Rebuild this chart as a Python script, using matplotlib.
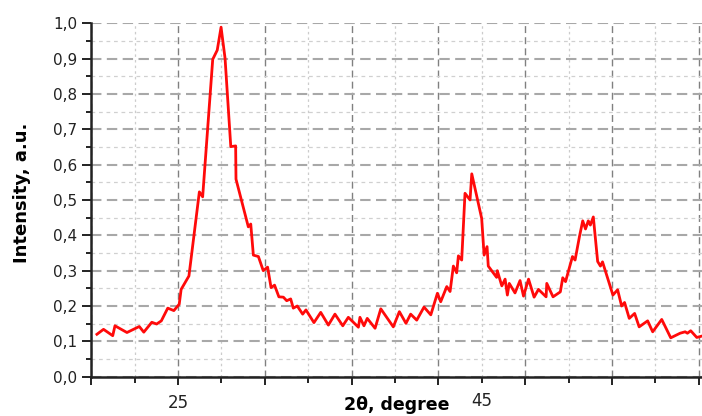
import matplotlib
matplotlib.use("Agg")
import matplotlib.pyplot as plt
from matplotlib.ticker import FixedLocator, FixedFormatter

plt.rcParams['font.family'] = ['DejaVu Sans']

# data: 2theta (degree) and intensity (a.u.)
two_theta = [20.33, 20.71, 21.24, 21.37, 22.06, 22.77, 23.03, 23.49, 23.77, 24.04,
             24.41, 24.76, 25.07, 25.18, 25.63, 26.23, 26.42, 27.00, 27.26, 27.48,
             27.71, 28.04, 28.32, 28.34, 29.05, 29.19, 29.34, 29.63, 29.91, 30.16,
             30.36, 30.56, 30.81, 31.07, 31.26, 31.49, 31.64, 31.87, 32.18, 32.37,
             32.83, 33.22, 33.66, 34.04, 34.49, 34.81, 35.39, 35.48, 35.71, 35.90,
             36.35, 36.68, 37.40, 37.75, 38.13, 38.40, 38.75, 39.17, 39.56, 39.94,
             40.13, 40.48, 40.67, 40.86, 41.05, 41.15, 41.34, 41.53, 41.82, 41.92,
             42.49, 42.63, 42.80, 42.87, 43.35, 43.39, 43.65, 43.84, 43.97, 44.08,
             44.41, 44.70, 44.90, 45.19, 45.51, 45.76, 46.20, 46.24, 46.60, 47.02,
             47.16, 47.32, 47.72, 47.87, 48.12, 48.31, 48.47, 48.63, 48.75, 48.92,
             49.17, 49.33, 49.45, 50.05, 50.32, 50.55, 50.72, 50.99, 51.30, 51.56,
             52.05, 52.34, 52.86, 53.38, 53.92, 54.21, 54.34, 54.53, 54.88, 55.18]
intensity = [0.120, 0.134, 0.116, 0.144, 0.125, 0.142, 0.126, 0.154, 0.149, 0.158,
             0.194, 0.187, 0.205, 0.247, 0.285, 0.523, 0.509, 0.898, 0.924, 0.989,
             0.901, 0.651, 0.653, 0.559, 0.424, 0.432, 0.344, 0.340, 0.300, 0.310,
             0.252, 0.259, 0.226, 0.225, 0.215, 0.220, 0.194, 0.200, 0.177, 0.189,
             0.153, 0.182, 0.146, 0.177, 0.144, 0.168, 0.140, 0.168, 0.144, 0.165,
             0.137, 0.192, 0.141, 0.184, 0.151, 0.177, 0.160, 0.197, 0.175, 0.236,
             0.212, 0.255, 0.241, 0.313, 0.294, 0.342, 0.330, 0.519, 0.500, 0.574,
             0.448, 0.344, 0.368, 0.313, 0.281, 0.300, 0.257, 0.276, 0.231, 0.264,
             0.237, 0.272, 0.228, 0.276, 0.225, 0.247, 0.226, 0.264, 0.226, 0.240,
             0.280, 0.269, 0.340, 0.330, 0.396, 0.441, 0.418, 0.441, 0.429, 0.452,
             0.326, 0.313, 0.325, 0.231, 0.246, 0.200, 0.210, 0.165, 0.179, 0.141,
             0.158, 0.127, 0.162, 0.110, 0.123, 0.127, 0.123, 0.130, 0.111, 0.115]

y_ticks = [0.0, 0.1, 0.2, 0.3, 0.4, 0.5, 0.6, 0.7, 0.8, 0.9, 1.0]
y_tick_labels = ['0,0', '0,1', '0,2', '0,3', '0,4', '0,5', '0,6', '0,7', '0,8', '0,9', '1,0']
y_minor = [0.05, 0.15, 0.25, 0.35, 0.45, 0.55, 0.65, 0.75, 0.85, 0.95]
x_ticks = [20, 25, 30, 35, 40, 45, 50, 55]
x_tick_labels = ['', '25', '', '', '', '', '', '']
x_minor = [22.5, 27.5, 32.5, 37.5, 42.5, 47.5, 52.5]
x_minor_labels = ['', '', '', '', '45', '', '']

fig = plt.figure(figsize=(7.02, 4.16), dpi=100)
ax = fig.add_axes([0.1299, 0.0945, 0.8701, 0.8495])

ax.set_xlim(20, 55.18)
ax.set_ylim(0, 1.0)

# grids
ax.grid(which='major', axis='y', color='#a8a8a8', linewidth=1.5, linestyle=(0, (5, 2.6)))
ax.grid(which='minor', axis='y', color='#d0d0d0', linewidth=0.9, linestyle=(0, (3, 3)))
ax.grid(which='major', axis='x', color='#808080', linewidth=1.0, linestyle=(0, (5, 3)))
ax.grid(which='minor', axis='x', color='#cccccc', linewidth=0.9, linestyle=(0, (2, 2.5)))
ax.set_axisbelow(True)

ax.plot(two_theta, intensity, color='#ff0a0a', linewidth=2.0, zorder=3)

ax.yaxis.set_major_locator(FixedLocator(y_ticks))
ax.yaxis.set_major_formatter(FixedFormatter(y_tick_labels))
ax.yaxis.set_minor_locator(FixedLocator(y_minor))
ax.xaxis.set_major_locator(FixedLocator(x_ticks))
ax.xaxis.set_major_formatter(FixedFormatter(x_tick_labels))
ax.xaxis.set_minor_locator(FixedLocator(x_minor))
ax.xaxis.set_minor_formatter(FixedFormatter(x_minor_labels))

for s in ['top', 'right']:
    ax.spines[s].set_visible(False)
for s in ['left', 'bottom']:
    ax.spines[s].set_linewidth(1.8)
    ax.spines[s].set_color('#222222')

ax.tick_params(axis='y', which='major', direction='out', length=6.5, width=1.4,
               labelsize=11, pad=3.5, colors='#222222')
ax.tick_params(axis='y', which='minor', direction='out', length=3.6, width=1.4, colors='#222222')
ax.tick_params(axis='x', which='major', direction='out', length=5.5, width=1.4,
               labelsize=12, pad=7, colors='#222222')
ax.tick_params(axis='x', which='minor', direction='out', length=4, width=1.4,
               labelsize=12, pad=7, colors='#222222')

ax.set_xlabel('2θ, degree', fontsize=12.5, fontweight='bold')
ax.xaxis.set_label_coords(0.5, -0.056)
ax.set_ylabel('Intensity, a.u.', fontsize=13, fontweight='bold')
ax.yaxis.set_label_coords(-0.0986, 0.52)

fig.savefig('out.png', dpi=100)
